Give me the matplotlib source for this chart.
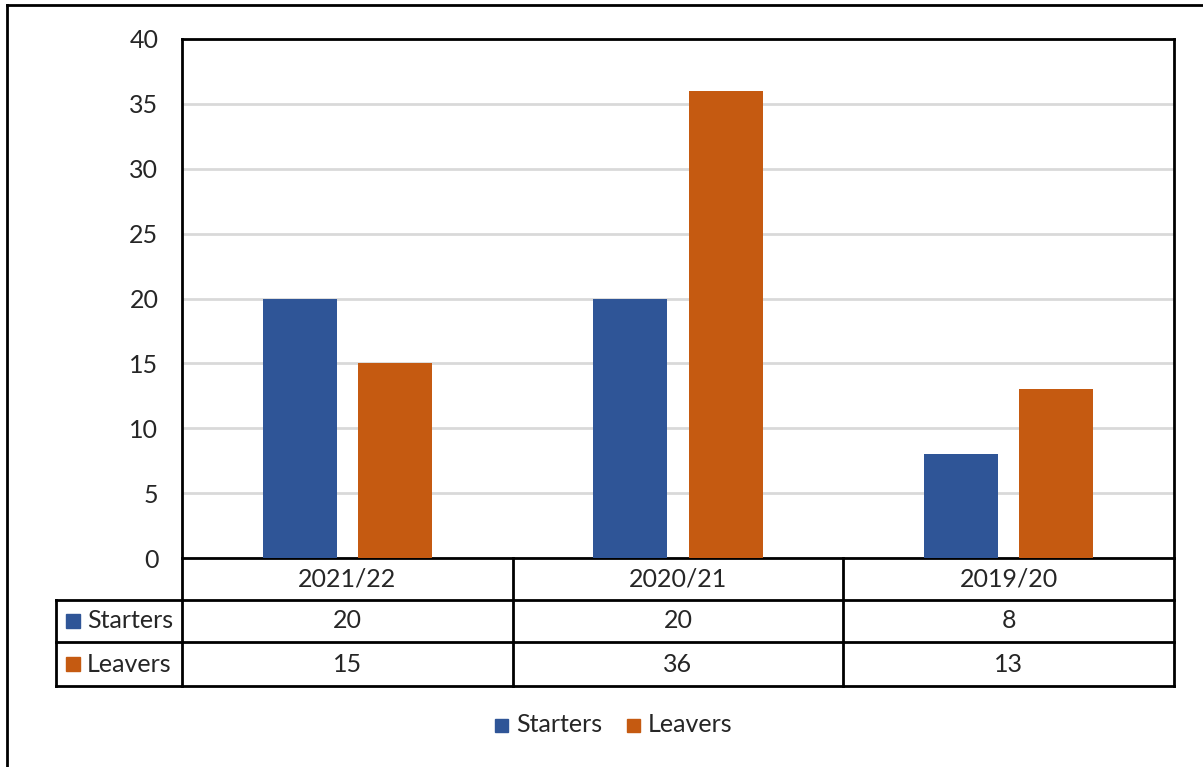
import matplotlib.pyplot as plt
from matplotlib.lines import Line2D
from matplotlib.patches import Rectangle
import matplotlib.transforms as mtransforms
import numpy as np

plt.rcParams['font.family'] = ['Lato', 'DejaVu Sans']

categories = ['2021/22', '2020/21', '2019/20']
starters = [20, 20, 8]
leavers = [15, 36, 13]
series_names = ['Starters', 'Leavers']
colors = ['#2F5597', '#C55A11']

W, H = 1203, 767
FS = 18
TXT = '#262626'
fig = plt.figure(figsize=(W / 100, H / 100), dpi=100)
ax = fig.add_axes([182 / W, 1 - 558 / H, (1174 - 182) / W, (558 - 39) / H])

x = np.arange(len(categories))
bw = 0.224
off = 0.144
ax.bar(x - off, starters, bw, color=colors[0], zorder=3)
ax.bar(x + off, leavers, bw, color=colors[1], zorder=3)

ax.set_xlim(-0.5, len(categories) - 0.5)
ax.set_ylim(0, 40)
ax.set_yticks(range(0, 41, 5))
ax.yaxis.grid(True, color='#d9d9d9', linewidth=2, zorder=0)
ax.tick_params(axis='y', length=0, pad=17, labelsize=FS, labelcolor=TXT)
ax.set_xticks([])
for s in ax.spines.values():
    s.set_linewidth(2)
    s.set_color('black')

# data table below the plot area
ah = 558 - 39
rows_y = [0, -42 / ah, -84 / ah, -128 / ah]
left_x = -0.5 - (182 - 56) / ((1174 - 182) / 3)
tr = mtransforms.blended_transform_factory(ax.transData, ax.transAxes)
lkw = dict(color='black', linewidth=2, transform=tr, clip_on=False)

# horizontal lines
ax.add_line(Line2D([-0.5, 2.5], [rows_y[1]] * 2, **lkw))
for yy in rows_y[2:]:
    ax.add_line(Line2D([left_x, 2.5], [yy] * 2, **lkw))
ax.add_line(Line2D([left_x, -0.5], [rows_y[1]] * 2, **lkw))
# vertical lines
for xx in [-0.5, 0.5, 1.5, 2.5]:
    ax.add_line(Line2D([xx, xx], [0, rows_y[3]], **lkw))
ax.add_line(Line2D([left_x, left_x], [rows_y[1], rows_y[3]], **lkw))

for i, c in enumerate(categories):
    ax.text(i, (rows_y[0] + rows_y[1]) / 2, c, transform=tr, ha='center',
            va='center', fontsize=FS, color=TXT)
    ax.text(i, (rows_y[1] + rows_y[2]) / 2, str(starters[i]), transform=tr,
            ha='center', va='center', fontsize=FS, color=TXT)
    ax.text(i, (rows_y[2] + rows_y[3]) / 2, str(leavers[i]), transform=tr,
            ha='center', va='center', fontsize=FS, color=TXT)

# row labels with colour keys
for r, (name, col) in enumerate(zip(series_names, colors)):
    yc = 1 - (621 + r * 43) / H
    fig.add_artist(Rectangle((66 / W, yc - 7 / H), 14 / W, 14 / H,
                             color=col, transform=fig.transFigure))
    fig.text(87 / W, yc, name, ha='left', va='center', fontsize=FS,
             color=TXT)

# legend
ly = 1 - 725 / H
for name, col, sx in zip(series_names, colors, [495, 627]):
    fig.add_artist(Rectangle((sx / W, ly - 7 / H), 13 / W, 13 / H,
                             color=col, transform=fig.transFigure))
    fig.text((sx + 21) / W, ly, name, ha='left', va='center', fontsize=FS,
             color=TXT)

# outer chart border (left and top edges visible)
fig.add_artist(Line2D([7 / W, 7 / W], [0, 1 - 5 / H], color='black',
                      linewidth=2, transform=fig.transFigure))
fig.add_artist(Line2D([7 / W, 1], [1 - 5 / H, 1 - 5 / H], color='black',
                      linewidth=2, transform=fig.transFigure))

fig.savefig('out.png', dpi=100)
